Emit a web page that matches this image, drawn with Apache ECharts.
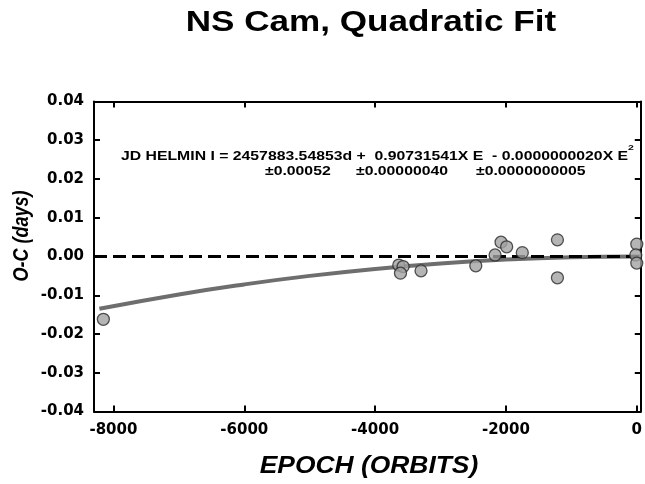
<!DOCTYPE html>
<html><head><meta charset="utf-8">
<script src="https://cdn.jsdelivr.net/npm/echarts@6/dist/echarts.min.js"></script>
<style>html,body{margin:0;padding:0;background:#fff}#c{width:645px;height:484px}</style>
</head><body><div id="c"></div>
<script>
// Observed O-C points
const epochs = [-8154, -3638, -3572, -3612, -3298, -2461, -2166, -2075, -1989, -1750, -1213, -1213, 0, -15, 0];
const ocDays = [-0.0162, -0.0022, -0.0026, -0.0043, -0.0037, -0.0024, 0.0004, 0.0037, 0.0025, 0.0010, 0.0043, -0.0055, 0.0032, 0.0004, -0.0017];
// Quadratic fit curve
const fitEpochs = [-8215, -7000, -6000, -5000, -4000, -3000, -2000, -1000, 0, 60];
const fitOC = [-0.0135, -0.0098, -0.0072, -0.0050, -0.0032, -0.0018, -0.0008, -0.0002, 0.0000, 0.0000];
const xTicks = [-8000, -6000, -4000, -2000, 0];
const titleText = 'NS Cam, Quadratic Fit';
const xName = 'EPOCH (ORBITS)';
const yName = 'O-C (days)';
const eqLine1 = 'JD HELMIN I = 2457883.54853d +  0.90731541X E  - 0.0000000020X E';
const eqErr = ['±0.00052', '±0.00000040', '±0.0000000005'];

const F = 'Liberation Sans, Arial, sans-serif';
const FL = 'DejaVu Sans, sans-serif';
const chart = echarts.init(document.getElementById('c'), null, {renderer: 'canvas'});
const frame = {show: true, onZero: false, lineStyle: {color: '#000', width: 2}};
const tick = {inside: true, length: 6, lineStyle: {color: '#000', width: 2}};
const XMIN = -8297, XMAX = 61;
const SX = 1.315;
function txt(s, x, y, font, extra) {
  return Object.assign({type: 'text', x: x, y: y, scaleX: SX, style: {text: s, font: font, fill: '#000', textVerticalAlign: 'middle'}}, extra || {});
}
chart.setOption({
  animation: false,
  backgroundColor: '#fff',
  grid: {left: 94, right: 2, top: 101.5, bottom: 72.5},
  xAxis: [
    {type: 'value', min: XMIN, max: XMAX, axisLine: frame,
     axisTick: Object.assign({customValues: xTicks}, tick),
     axisLabel: {customValues: xTicks, color: '#000', fontFamily: FL, fontWeight: 'bold', fontSize: 15, margin: 11,
       formatter: v => String(v)},
     splitLine: {show: false}},
    {type: 'value', position: 'top', min: XMIN, max: XMAX, axisLine: frame,
     axisTick: Object.assign({customValues: xTicks}, tick),
     axisLabel: {show: false}, splitLine: {show: false}}
  ],
  yAxis: [
    {type: 'value', min: -0.04, max: 0.04, interval: 0.01, axisLine: frame, axisTick: tick,
     axisLabel: {color: '#000', fontFamily: FL, fontWeight: 'bold', fontSize: 15, margin: 10,
       formatter: v => v.toFixed(2)},
     splitLine: {show: false}},
    {type: 'value', position: 'right', min: -0.04, max: 0.04, interval: 0.01, axisLine: frame, axisTick: tick,
     axisLabel: {show: false}, splitLine: {show: false}}
  ],
  series: [
    {type: 'line', data: fitEpochs.map((e, i) => [e, fitOC[i]]), smooth: true, symbol: 'none',
     lineStyle: {color: '#6e6e6e', width: 4}, z: 2},
    {type: 'line', data: [[XMIN, 0], [XMAX, 0]], symbol: 'none',
     lineStyle: {color: '#000', width: 3, type: [13, 6]}, z: 3},
    {type: 'scatter', data: epochs.map((e, i) => [e, ocDays[i]]), symbol: 'circle', symbolSize: 12,
     itemStyle: {color: '#a3a3a3', borderColor: '#2a2a2a', borderWidth: 1.3}, z: 4}
  ],
  graphic: [
    {type: 'text', x: 371, y: 23, scaleX: 1.21, style: {text: titleText, font: 'bold 29px ' + F, fill: '#000', textAlign: 'center', textVerticalAlign: 'middle'}},
    {type: 'text', x: 369, y: 466, scaleX: 1.1, style: {text: xName, font: 'italic bold 24px ' + F, fill: '#000', textAlign: 'center', textVerticalAlign: 'middle'}},
    {type: 'text', x: 22, y: 236, rotation: Math.PI / 2, scaleY: 1.2, style: {text: yName, font: 'italic bold 18px ' + F, fill: '#000', textAlign: 'center', textVerticalAlign: 'middle'}},
    txt(eqLine1, 121, 157, 'bold 12px ' + F),
    txt('2', 628, 148, 'bold 8px ' + F),
    txt(eqErr[0], 265, 172, 'bold 12px ' + F),
    txt(eqErr[1], 356, 172, 'bold 12px ' + F),
    txt(eqErr[2], 476, 172, 'bold 12px ' + F)
  ]
});
</script></body></html>
